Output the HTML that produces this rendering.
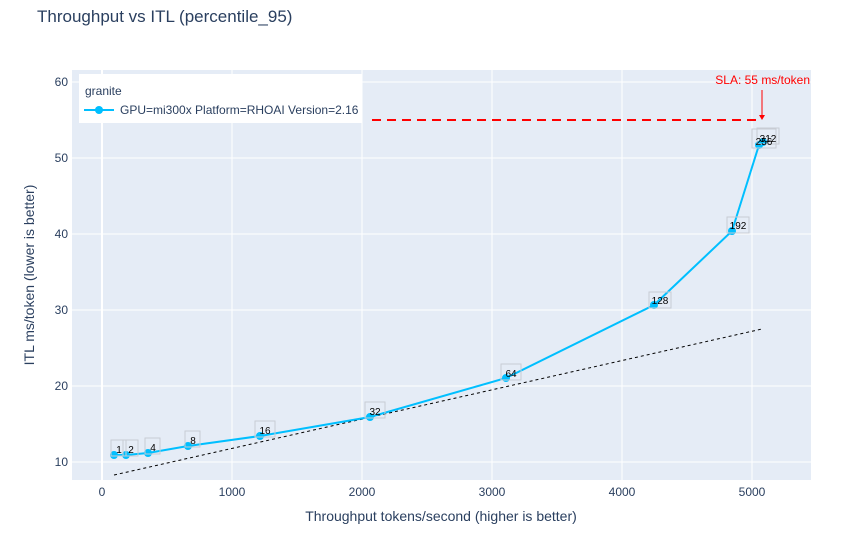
<!DOCTYPE html>
<html><head><meta charset="utf-8"><style>body{margin:0;background:#fff}svg{display:block;font-family:"Liberation Sans",Arial,sans-serif}</style></head><body>
<svg width="861" height="557" viewBox="0 0 861 557">
<rect width="861" height="557" fill="#fff"/>
<text x="37" y="22" font-size="17" fill="#2a3f5f">Throughput vs ITL (percentile_95)</text>
<rect x="72" y="70" width="739" height="410" fill="#e5ecf6"/>
<g stroke="#fff" stroke-width="1">
<line x1="102" y1="70" x2="102" y2="480" stroke-width="2"/><line x1="232" y1="70" x2="232" y2="480"/><line x1="362" y1="70" x2="362" y2="480"/><line x1="492" y1="70" x2="492" y2="480"/><line x1="622" y1="70" x2="622" y2="480"/><line x1="752" y1="70" x2="752" y2="480"/>
<line x1="72" y1="82" x2="811" y2="82"/><line x1="72" y1="158" x2="811" y2="158"/><line x1="72" y1="234" x2="811" y2="234"/><line x1="72" y1="310" x2="811" y2="310"/><line x1="72" y1="386" x2="811" y2="386"/><line x1="72" y1="462" x2="811" y2="462"/>
</g>
<g font-size="12" fill="#2a3f5f" text-anchor="middle">
<text x="102" y="496">0</text><text x="232" y="496">1000</text><text x="362" y="496">2000</text><text x="492" y="496">3000</text><text x="622" y="496">4000</text><text x="752" y="496">5000</text>
</g>
<g font-size="12" fill="#2a3f5f" text-anchor="end">
<text x="68" y="86">60</text><text x="68" y="162">50</text><text x="68" y="238">40</text><text x="68" y="314">30</text><text x="68" y="390">20</text><text x="68" y="466">10</text>
</g>
<text x="441" y="521" font-size="14" fill="#2a3f5f" text-anchor="middle">Throughput tokens/second (higher is better)</text>
<text transform="translate(34,275) rotate(-90)" font-size="14" fill="#2a3f5f" text-anchor="middle">ITL ms/token (lower is better)</text>
<line x1="114" y1="475" x2="762" y2="329" stroke="#000" stroke-width="1" stroke-dasharray="3,3"/>
<line x1="372" y1="120" x2="762" y2="120" stroke="#f00" stroke-width="2" stroke-dasharray="9,6"/>
<line x1="762" y1="90" x2="762" y2="117" stroke="#f00" stroke-width="1"/>
<path d="M759,115 L765,115 L762,120Z" fill="#f00"/>
<text x="810" y="84" font-size="12" fill="#f00" text-anchor="end">SLA: 55 ms/token</text>
<polyline points="114,455 126,455 148,453 188,446 260,436 370,417 506,378 654,305 732,231 759,145 763,142" fill="none" stroke="#00bfff" stroke-width="2"/>
<g fill="#00bfff"><circle cx="114" cy="455" r="4"/><circle cx="126" cy="455" r="4"/><circle cx="148" cy="453" r="4"/><circle cx="188" cy="446" r="4"/><circle cx="260" cy="436" r="4"/><circle cx="370" cy="417" r="4"/><circle cx="506" cy="378" r="4"/><circle cx="654" cy="305" r="4"/><circle cx="732" cy="231" r="4"/><circle cx="759" cy="145" r="4"/><circle cx="763" cy="142" r="4"/></g>
<g fill="none" stroke="#c8ccd4" stroke-width="1">
<rect x="111" y="440" width="15" height="16"/><rect x="123" y="440" width="15" height="16"/><rect x="145" y="438" width="15" height="16"/><rect x="185" y="431" width="15" height="16"/><rect x="255" y="421" width="20" height="16"/><rect x="365" y="402" width="20" height="16"/><rect x="501" y="364" width="20" height="16"/><rect x="649" y="292" width="22" height="16"/><rect x="727" y="217" width="22" height="16"/><rect x="752" y="129" width="24" height="19"/><rect x="757" y="128" width="22" height="16"/>
</g>
<g font-size="10" fill="#000" text-anchor="middle">
<text x="119" y="453">1</text><text x="131" y="453">2</text><text x="153" y="451">4</text><text x="193" y="444">8</text><text x="265" y="434">16</text><text x="375" y="415">32</text><text x="511" y="377">64</text><text x="660" y="304">128</text><text x="738" y="229">192</text><text x="764" y="145">256</text><text x="768" y="142">312</text>
</g>
<rect x="79" y="74" width="283" height="49" fill="#fff"/>
<text x="85" y="95" font-size="12" fill="#2a3f5f">granite</text>
<line x1="84" y1="110" x2="114" y2="110" stroke="#00bfff" stroke-width="2"/>
<circle cx="99" cy="110" r="4" fill="#00bfff"/>
<text x="120" y="114" font-size="12" fill="#2a3f5f">GPU=mi300x Platform=RHOAI Version=2.16</text>
</svg>
</body></html>
